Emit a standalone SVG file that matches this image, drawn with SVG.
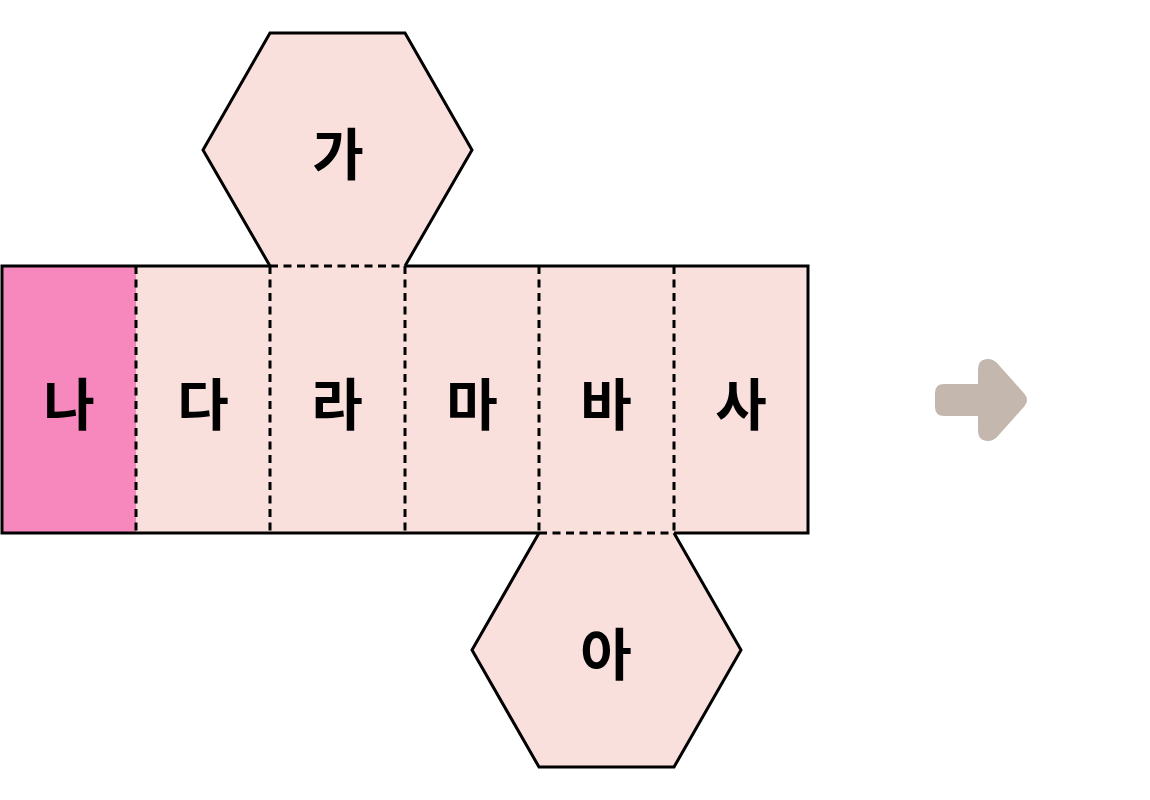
<svg xmlns="http://www.w3.org/2000/svg" width="1150" height="800" viewBox="0 0 1150 800">
<style>
.face{fill:#F9E0DD;stroke:none}
.edge{fill:none;stroke:#000;stroke-width:3;stroke-linejoin:miter}
.fold{fill:none;stroke:#000;stroke-width:3;stroke-dasharray:8 5.5}
.lbl{font-family:"Noto Sans CJK KR","Noto Sans",sans-serif;font-weight:bold;font-size:56px;text-anchor:middle;dominant-baseline:central;fill:#000}
</style>
<rect width="1150" height="800" fill="#fff"/>
<g id="face-ga">
<polygon class="face" points="270,266 203,150 270,33 405,33 472,150 405,266"/>
<text class="lbl" x="338" y="150">가</text>
</g>
<g id="face-na">
<rect x="2" y="266" width="134" height="267" fill="#F788BD"/>
<text class="lbl" x="69" y="400">나</text>
</g>
<g id="face-da">
<rect class="face" x="136" y="266" width="134" height="267"/>
<text class="lbl" x="203" y="400">다</text>
</g>
<g id="face-ra">
<rect class="face" x="270" y="266" width="135" height="267"/>
<text class="lbl" x="337" y="400">라</text>
</g>
<g id="face-ma">
<rect class="face" x="405" y="266" width="134" height="267"/>
<text class="lbl" x="472" y="400">마</text>
</g>
<g id="face-ba">
<rect class="face" x="539" y="266" width="135" height="267"/>
<text class="lbl" x="606" y="400">바</text>
</g>
<g id="face-sa">
<rect class="face" x="674" y="266" width="134" height="267"/>
<text class="lbl" x="741" y="400">사</text>
</g>
<g id="face-a">
<polygon class="face" points="539,533 674,533 741,650 674,767 539,767 472,650"/>
<text class="lbl" x="606" y="650">아</text>
</g>
<g id="connectors">
<polyline class="edge" points="270,266 203,150 270,33 405,33 472,150 405,266"/>
<polyline class="edge" points="539,533 472,650 539,767 674,767 741,650 674,533"/>
<polyline class="edge" points="270,266 2,266 2,533 539,533"/>
<polyline class="edge" points="405,266 808,266 808,533 674,533"/>
<line class="fold" x1="270" y1="266" x2="405" y2="266"/>
<line class="fold" x1="539" y1="533" x2="674" y2="533"/>
<line class="fold" x1="136" y1="266" x2="136" y2="533"/>
<line class="fold" x1="270" y1="266" x2="270" y2="533"/>
<line class="fold" x1="405" y1="266" x2="405" y2="533"/>
<line class="fold" x1="539" y1="266" x2="539" y2="533"/>
<line class="fold" x1="674" y1="266" x2="674" y2="533"/>
</g>
<g id="arrow">
<path d="M944,384 L978,384 L978,370 Q978,359 988,359 Q993,359 997,363 L1022,391 Q1027,396 1027,400 Q1027,404 1022,409 L997,437 Q993,441 988,441 Q978,441 978,430 L978,416 L944,416 Q935,416 935,407 L935,393 Q935,384 944,384 Z" fill="#C4B8AE"/>
</g>
</svg>
